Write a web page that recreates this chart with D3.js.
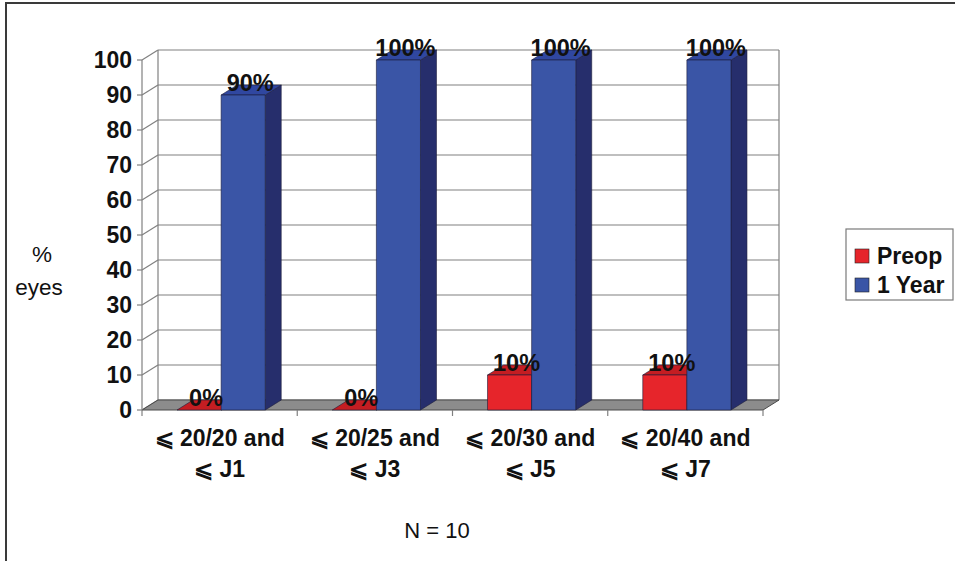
<!DOCTYPE html>
<html>
<head>
<meta charset="utf-8">
<script src="https://cdn.jsdelivr.net/npm/d3@7/dist/d3.min.js"></script>
<style>
  html, body { margin: 0; padding: 0; background: #fff; }
  svg { display: block; }
  text { font-family: "Liberation Sans", Arial, sans-serif; fill: #111; }
</style>
</head>
<body>
<svg id="chart" width="955" height="561"></svg>
<script>
// Visual acuity thresholds (distance and Jaeger near)
const categories = [
  ["\u2A7D 20/20 and", "\u2A7D J1"],
  ["\u2A7D 20/25 and", "\u2A7D J3"],
  ["\u2A7D 20/30 and", "\u2A7D J5"],
  ["\u2A7D 20/40 and", "\u2A7D J7"]
];
const seriesNames = ["Preop", "1 Year"];
const preop = [0, 0, 10, 10];
const oneYear = [90, 100, 100, 100];
const yTicks = [0, 10, 20, 30, 40, 50, 60, 70, 80, 90, 100];

const colors = {
  "Preop":  { front: "#e6252b", top: "#c41d22", side: "#8d1518" },
  "1 Year": { front: "#3a55a6", top: "#3047a0", side: "#262e6c" }
};

const svg = d3.select("#chart");

// Plot geometry: front plane plus an oblique depth offset
const x0 = 142, x1 = 763;
const DX = 16, DY = -10;

const y = d3.scaleLinear().domain([0, 100]).range([410, 60]);
const catIdx = d3.range(categories.length);
const xCat = d3.scaleBand().domain(catIdx).range([x0, x1]).padding(0);
const xSer = d3.scaleBand().domain(seriesNames).range([0, xCat.bandwidth()])
  .paddingInner(0).paddingOuter(0.76);

// Outer frame
svg.append("rect")
  .attr("x", 6).attr("y", 3).attr("width", 1000).attr("height", 600)
  .attr("fill", "none").attr("stroke", "#3a3a3a").attr("stroke-width", 2);

const grid = svg.append("g").attr("stroke", "#808080").attr("stroke-width", 1.2).attr("fill", "none");

// Back wall gridlines
grid.selectAll("line.h").data(yTicks).join("line")
  .attr("x1", x0 + DX).attr("x2", x1 + DX)
  .attr("y1", d => y(d) + DY).attr("y2", d => y(d) + DY);

// Side wall diagonals
grid.selectAll("line.d").data(yTicks).join("line")
  .attr("x1", x0).attr("x2", x0 + DX)
  .attr("y1", d => y(d)).attr("y2", d => y(d) + DY);

// Wall edges
grid.append("line").attr("x1", x0 + DX).attr("x2", x0 + DX).attr("y1", y(100) + DY).attr("y2", y(0) + DY);
grid.append("line").attr("x1", x1 + DX).attr("x2", x1 + DX).attr("y1", y(100) + DY).attr("y2", y(0) + DY);

// Floor
svg.append("polygon")
  .attr("points", [[x0, y(0)], [x1, y(0)], [x1 + DX, y(0) + DY], [x0 + DX, y(0) + DY]].map(p => p.join(",")).join(" "))
  .attr("fill", "#8c8c8c").attr("stroke", "#4a4a4a").attr("stroke-width", 1);

// Y axis
const axisG = svg.append("g").attr("stroke", "#808080").attr("stroke-width", 1.2);
axisG.append("line").attr("x1", x0).attr("x2", x0).attr("y1", y(100)).attr("y2", y(0));
axisG.selectAll("line.t").data(yTicks).join("line")
  .attr("x1", x0 - 5).attr("x2", x0).attr("y1", d => y(d)).attr("y2", d => y(d));

svg.append("g").selectAll("text").data(yTicks).join("text")
  .attr("x", 132).attr("y", d => y(d) + 8)
  .attr("text-anchor", "end")
  .style("font-size", "23px").style("font-weight", "bold")
  .text(d => d);

// X axis category ticks
const bounds = catIdx.map(i => xCat(i)).concat([x1]);
svg.append("g").attr("stroke", "#808080").attr("stroke-width", 1.2)
  .selectAll("line").data(bounds).join("line")
  .attr("x1", d => d).attr("x2", d => d).attr("y1", y(0)).attr("y2", y(0) + 6);

// Bars (side, top, front faces)
const bars = [];
catIdx.forEach(i => {
  [["Preop", preop[i]], ["1 Year", oneYear[i]]].forEach(([s, v]) => {
    bars.push({ i, s, v, x: xCat(i) + xSer(s) + 1.5, w: xSer.bandwidth() });
  });
});

const barG = svg.append("g");
bars.forEach(b => {
  const c = colors[b.s];
  const xl = b.x, xr = b.x + b.w, yt = y(b.v), yb = y(0);
  const g = barG.append("g").attr("stroke", "#1c1c3a").attr("stroke-width", 0.6).attr("stroke-linejoin", "round");
  g.append("polygon")
    .attr("points", [[xr, yb], [xr + DX, yb + DY], [xr + DX, yt + DY], [xr, yt]].map(p => p.join(",")).join(" "))
    .attr("fill", c.side);
  g.append("polygon")
    .attr("points", [[xl, yt], [xr, yt], [xr + DX, yt + DY], [xl + DX, yt + DY]].map(p => p.join(",")).join(" "))
    .attr("fill", c.top);
  if (b.v > 0) {
    g.append("rect")
      .attr("x", xl).attr("y", yt).attr("width", b.w).attr("height", yb - yt)
      .attr("fill", c.front);
  }
});

// Value labels
svg.append("g").selectAll("text").data(bars).join("text")
  .attr("x", d => d.x + d.w / 2 + 7)
  .attr("y", d => y(d.v) - 4)
  .attr("text-anchor", "middle")
  .style("font-size", "23.5px").style("font-weight", "bold")
  .text(d => d.v + "%");

// Category labels
const catG = svg.append("g");
catIdx.forEach(i => {
  const cx = xCat(i) + xCat.bandwidth() / 2;
  categories[i].forEach((line, k) => {
    catG.append("text")
      .attr("x", cx).attr("y", 446 + k * 31)
      .attr("text-anchor", "middle")
      .style("font-size", "23px").style("font-weight", "bold")
      .text(line);
  });
});

// Y title
svg.append("text").attr("x", 42).attr("y", 262).attr("text-anchor", "middle")
  .style("font-size", "22.5px").text("%");
svg.append("text").attr("x", 39).attr("y", 295).attr("text-anchor", "middle")
  .style("font-size", "22.5px").text("eyes");

// Sample size note
svg.append("text").attr("x", 437).attr("y", 538).attr("text-anchor", "middle")
  .style("font-size", "22px").text("N = 10");

// Legend
const leg = svg.append("g");
leg.append("rect").attr("x", 846).attr("y", 229).attr("width", 107).attr("height", 71)
  .attr("fill", "#fff").attr("stroke", "#7a7a7a").attr("stroke-width", 1.2);
seriesNames.forEach((s, k) => {
  leg.append("rect").attr("x", 855).attr("y", 249 + k * 29).attr("width", 14).attr("height", 14)
    .attr("fill", colors[s].front).attr("stroke", "#222").attr("stroke-width", 0.6);
  leg.append("text").attr("x", 877).attr("y", 264 + k * 29)
    .style("font-size", "23px").style("font-weight", "bold").text(s);
});
</script>
</body>
</html>
